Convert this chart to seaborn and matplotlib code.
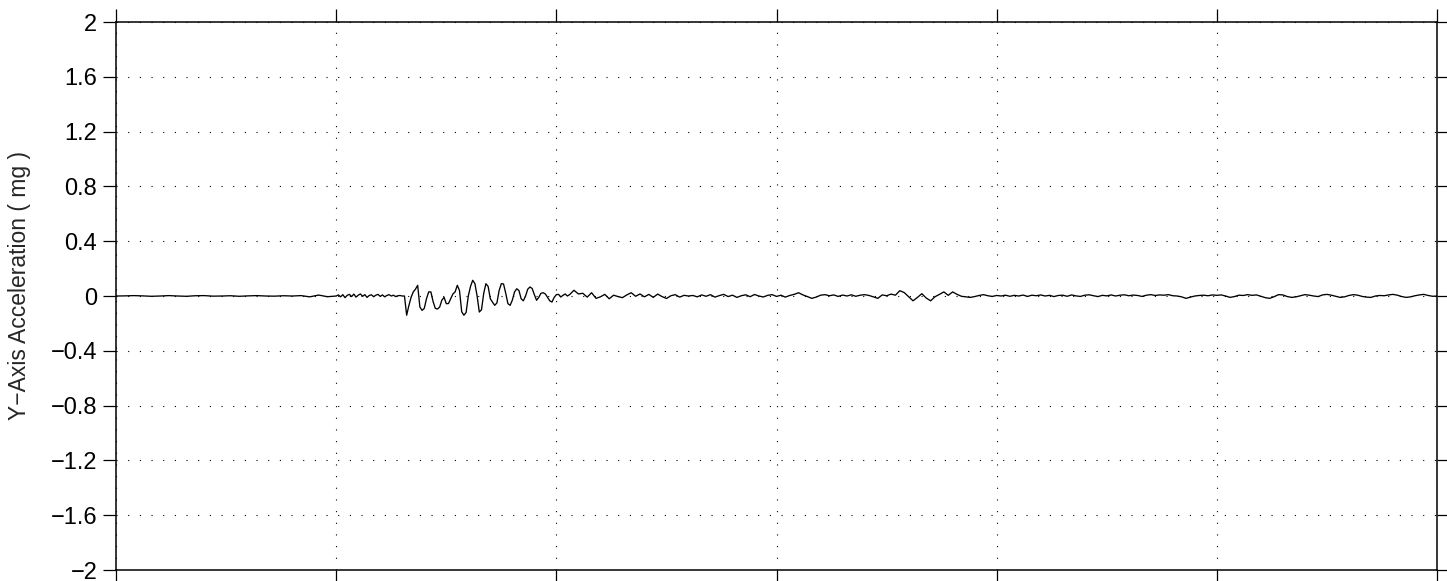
import numpy as np
import pandas as pd
import matplotlib
matplotlib.use("Agg")
import matplotlib.pyplot as plt
from matplotlib.ticker import FuncFormatter, MultipleLocator
import seaborn as sns

# --- recorded trace (time in s, acceleration in mg) ---------------------------
# quiet pre-event record, sampled every 4 s
pre_t = np.arange(0, 100, 4)
pre_acc = [0.0, 0.001, 0.003, 0.001, -0.002, 0.0, 0.003, 0.0, -0.002, 0.002,
           0.003, -0.001, 0.0, 0.002, -0.002, 0.001, 0.003, 0.0, -0.001, 0.002,
           0.0, 0.003, -0.006, 0.007, -0.005]

# low-level noise before the first arrival, every 1 s
onset_t = np.arange(100, 131, 1)
onset_acc = [0.0, 0.008, -0.006, 0.01, -0.012, 0.005, 0.012, -0.004, 0.014, -0.008,
             0.006, 0.015, -0.002, 0.01, -0.01, 0.004, 0.009, -0.005, 0.006, 0.012,
             -0.003, 0.008, -0.006, 0.004, 0.01, 0.0, 0.006, -0.004, 0.002, 0.004,
             0.0]

# main shaking, every 1 s
burst_t = np.arange(131, 206, 1)
burst_acc = [0.0, -0.14, -0.07, -0.01, 0.03, 0.05, 0.078, -0.08, -0.105, -0.09,
             -0.02, 0.03, 0.03, -0.04, -0.09, -0.095, -0.08, -0.03, -0.01, -0.056,
             -0.055, -0.02, 0.015, 0.03, 0.078, 0.04, -0.115, -0.14, -0.12, 0.0,
             0.07, 0.115, 0.09, 0.0, -0.117, -0.1, 0.02, 0.09, 0.07, -0.02,
             -0.045, -0.068, -0.05, 0.04, 0.09, 0.088, 0.02, -0.056, -0.068, -0.03,
             0.03, 0.053, 0.04, -0.02, -0.035, 0.0, 0.05, 0.066, 0.055, 0.01,
             -0.031, -0.01, 0.02, 0.024, 0.015, -0.01, -0.035, -0.044, -0.01, 0.01,
             0.012, -0.007, 0.005, 0.015, 0.0]

# coda, every 2 s
coda_t = np.arange(206, 601, 2)
coda_acc = [0.01, 0.042, 0.015, 0.02, -0.008, 0.024, -0.017, -0.006, 0.012, -0.02,
            0.006, -0.004, -0.012, 0.008, 0.024, -0.002, 0.015, -0.006, 0.012, -0.01,
            0.014, -0.004, -0.018, 0.002, 0.01, -0.008, 0.005, 0.0,
            0.004, -0.006, 0.008, -0.002, 0.01, -0.008, 0.003, 0.012, -0.004, 0.006,
            -0.01, 0.002, 0.009, -0.005, 0.011, 0.0, -0.007, 0.005, 0.01, -0.003,
            0.006, -0.008, 0.004, 0.012, 0.024, 0.008, -0.004, -0.017, -0.008, 0.006,
            0.01, 0.002, 0.008, -0.003, 0.007, 0.0, 0.009, -0.002, 0.006, 0.01,
            0.004, -0.006, -0.017, 0.008, 0.002, 0.014, 0.006, 0.039, 0.025, -0.005,
            -0.035, -0.01, 0.017, -0.015, -0.035, -0.005, 0.012, 0.03, 0.005, 0.03,
            0.012, -0.002, -0.006, -0.01, -0.004, 0.004, 0.01, 0.002, -0.003, 0.004,
            0.0, 0.006, -0.002, 0.005, 0.0, 0.007, -0.003, 0.006, 0.002, 0.008,
            0.0, 0.005, -0.004, 0.004, 0.006, -0.002, 0.008, 0.001, -0.003, 0.006,
            0.009, 0.002, -0.004, 0.005, 0.001, 0.008, 0.0, 0.006, 0.009, 0.002,
            0.007, 0.004, -0.003, 0.006, 0.01, 0.004, 0.008, 0.006, 0.01, 0.002,
            0.0, -0.006, -0.017, -0.008, 0.0, 0.004, 0.006, 0.002, 0.008, 0.005,
            0.008, 0.0, -0.01, -0.004, 0.006, 0.004, 0.01, 0.005, 0.008, -0.002,
            -0.012, -0.017, -0.005, 0.01, 0.008, -0.004, -0.01, -0.006, 0.002, 0.01,
            0.006, 0.0, -0.004, 0.008, 0.012, 0.006, -0.002, -0.01, -0.006, 0.004,
            0.01, 0.006, -0.003, -0.008, -0.01, 0.0, 0.004, 0.002, 0.008, 0.012,
            0.006, -0.004, -0.01, -0.006, 0.002, 0.008, 0.012, 0.004, -0.002, 0.0]

y_ticks = [-2, -1.6, -1.2, -0.8, -0.4, 0, 0.4, 0.8, 1.2, 1.6, 2]
y_label = "Y\u2212Axis Acceleration ( mg )"

trace = pd.DataFrame({
    "t": np.concatenate([pre_t, onset_t, burst_t, coda_t]),
    "acc": np.concatenate([pre_acc, onset_acc, burst_acc, coda_acc]),
})

# --- styling -----------------------------------------------------------------
sns.set_style("ticks")
plt.rcParams["font.family"] = ["Liberation Sans", "DejaVu Sans"]
plt.rcParams["axes.unicode_minus"] = True

fig = plt.figure(figsize=(14.47, 5.81), dpi=100)
ax = fig.add_axes([0.0802, 0.0189, 0.9129, 0.9432])

sns.lineplot(data=trace, x="t", y="acc", ax=ax, color="black",
             linewidth=0.95, estimator=None, sort=False)

ax.set_xlim(0, 600)
ax.set_ylim(-2, 2)
ax.xaxis.set_major_locator(MultipleLocator(100))
ax.set_yticks(y_ticks)
ax.yaxis.set_major_formatter(
    FuncFormatter(lambda v, _: ("%g" % v).replace("-", "\u2212")))
ax.set_xticklabels([])
ax.set_xlabel("")
ax.set_ylabel(y_label, fontsize=16.5)
ax.yaxis.set_label_coords(-0.0643, 0.52)

for side in ["top", "right", "bottom", "left"]:
    ax.spines[side].set_visible(True)
    ax.spines[side].set_linewidth(1.1)
    ax.spines[side].set_color("black")

ax.tick_params(axis="both", which="major", direction="out", length=9.5,
               width=0.9, color="black", top=True, right=True,
               labelsize=17, labelcolor="black", pad=4)
ax.tick_params(axis="x", labelbottom=False)

ax.grid(True, which="major", color="black", linewidth=0.8,
        linestyle=(0, (1, 9.5)))
ax.set_axisbelow(True)

fig.savefig("out.png", dpi=100)
